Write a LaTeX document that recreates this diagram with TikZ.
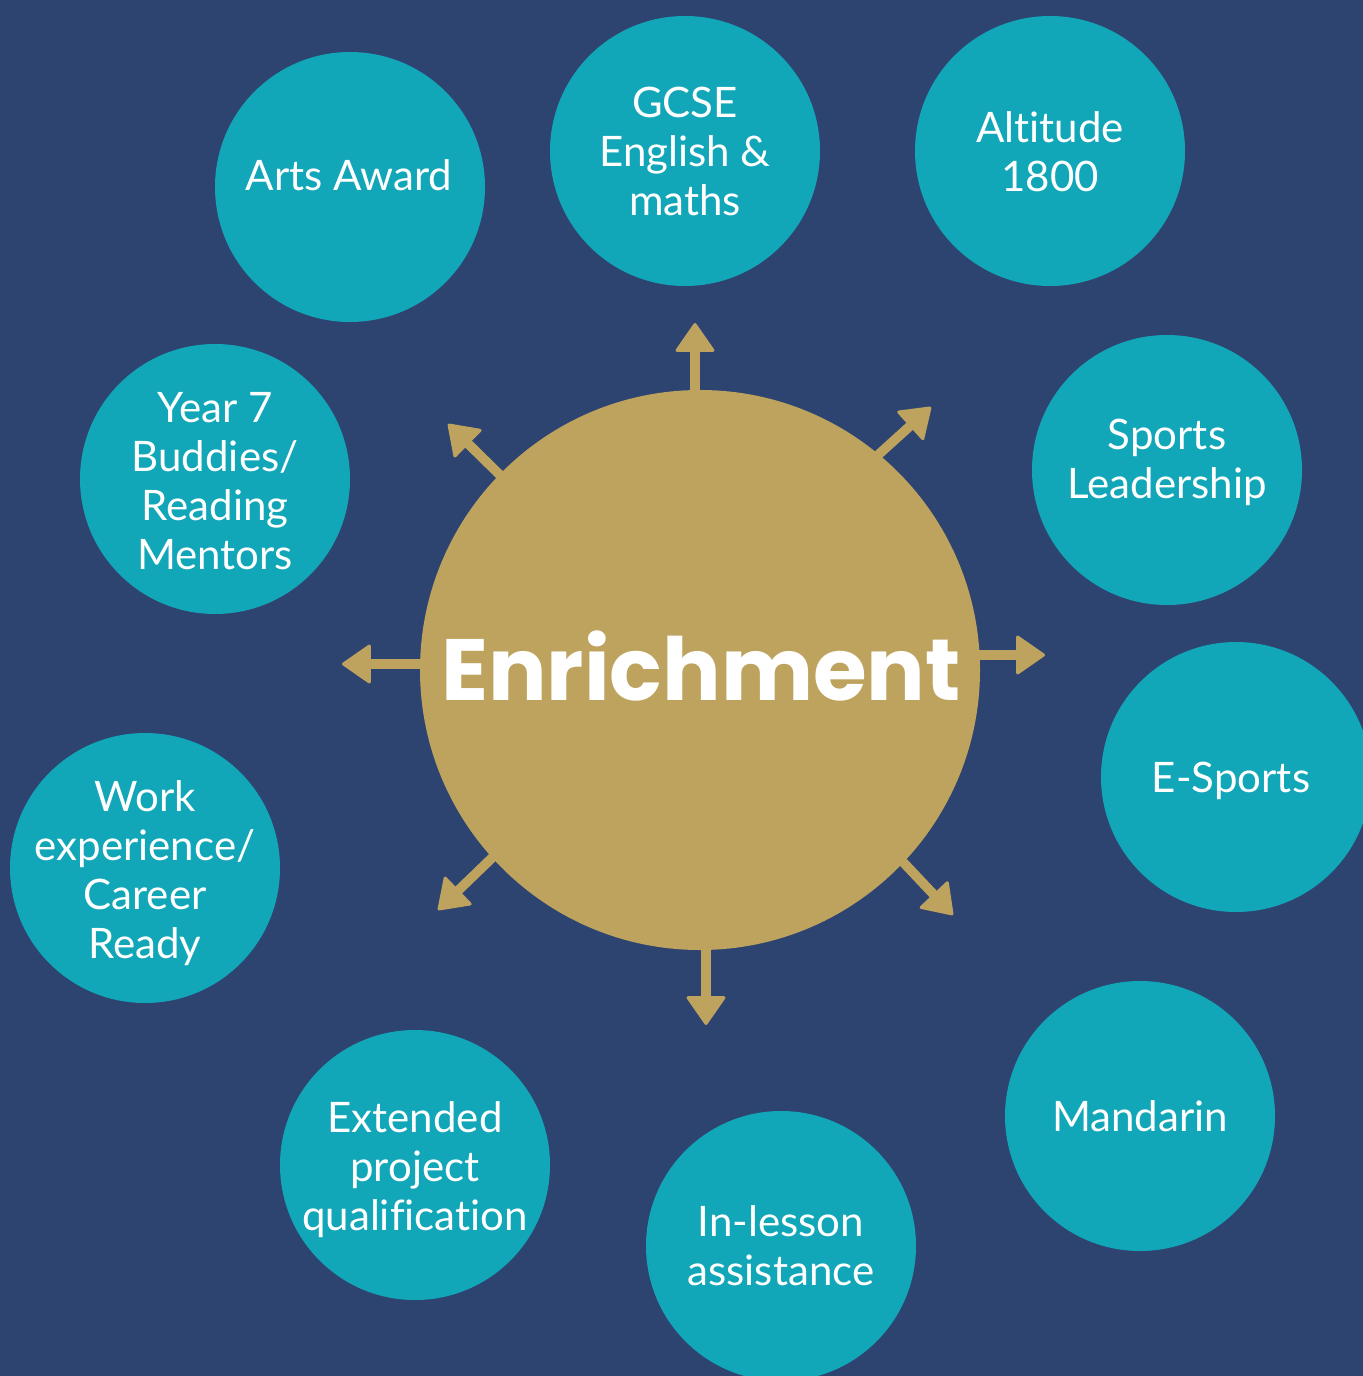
\documentclass[tikz,border=0pt]{standalone}
\usepackage{fontspec}
\setmainfont{Lato}[Ligatures=CommonOff]
\newfontfamily\poppins{Poppins}
\usetikzlibrary{arrows.meta}
\definecolor{navy}{RGB}{46,68,112}
\definecolor{tealc}{RGB}{18,167,184}
\definecolor{goldc}{RGB}{190,163,94}
\begin{document}
\begin{tikzpicture}[x=0.5pt,y=-0.5pt,
  bubble/.style={circle,fill=tealc,minimum size=135pt,inner sep=0pt},
  bubbletext/.style={text=white,align=center,inner sep=0pt,font=\fontsize{21}{24.5}\selectfont},
  hub/.style={circle,fill=goldc,minimum size=280pt,inner sep=0pt},
  ray/.style={draw=goldc,line width=4.8pt,-{Triangle[length=15pt,width=20.5pt,round,line width=1.5pt]}}
]
\useasboundingbox (0,0) rectangle (1363,1376);
\clip (0,0) rectangle (1363,1376);
\fill[navy] (0,0) rectangle (1363,1376);

% bubbles
\node[bubble] (arts) at (350,187) {};
\node[bubble] (gcse) at (685,151) {};
\node[bubble] (alt) at (1050,151) {};
\node[bubble] (sports) at (1167,470) {};
\node[bubble] (esports) at (1236,777) {};
\node[bubble] (mand) at (1140,1116) {};
\node[bubble] (inles) at (781,1246) {};
\node[bubble] (epq) at (415,1165) {};
\node[bubble] (work) at (145,868) {};
\node[bubble] (year) at (215,479) {};

% bubble texts
\node[bubbletext] (tarts) at (349,175) {Arts Award};
\node[bubbletext] (tgcse) at (685,151) {GCSE\\English \&\\maths};
\node[bubbletext] (talt) at (1050,152) {Altitude\\1800};
\node[bubbletext] (tsports) at (1167,462) {Sports\\Leadership};
\node[bubbletext] (tesports) at (1231,781) {E-Sports};
\node[bubbletext] (tmand) at (1140,1116) {Mandarin};
\node[bubbletext] (tinles) at (781,1246) {In-lesson\\assistance};
\node[bubbletext] (tepq) at (415,1170) {Extended\\project\\qualification};
\node[bubbletext] (twork) at (145,873) {Work\\experience/\\Career\\Ready};
\node[bubbletext] (tyear) at (215,481) {Year 7\\Buddies/\\Reading\\Mentors};

% hub
\node[hub] (hub) at (700,670) {};
\node[text=white,inner sep=0pt,font=\poppins\bfseries\fontsize{43.5}{52}\selectfont] (enr) at (701,666) {Enrichment};

% arrow tips
\coordinate (tipU) at (695,323);
\coordinate (tipUR) at (931,407);
\coordinate (tipR) at (1045,655);
\coordinate (tipDR) at (953,915);
\coordinate (tipD) at (706,1025);
\coordinate (tipDL) at (438,910);
\coordinate (tipL) at (342,664);
\coordinate (tipUL) at (448,424);

% arrow starts on the hub border
\coordinate (sU) at (695,395);
\coordinate (sUR) at (878,455);
\coordinate (sR) at (975,655);
\coordinate (sDR) at (903,862);
\coordinate (sD) at (706,945);
\coordinate (sDL) at (495,855);
\coordinate (sL) at (425,664);
\coordinate (sUL) at (500,475);

\draw[ray] (sU) -- (tipU);
\draw[ray] (sUR) -- (tipUR);
\draw[ray] (sR) -- (tipR);
\draw[ray] (sDR) -- (tipDR);
\draw[ray] (sD) -- (tipD);
\draw[ray] (sDL) -- (tipDL);
\draw[ray] (sL) -- (tipL);
\draw[ray] (sUL) -- (tipUL);
\end{tikzpicture}
\end{document}
